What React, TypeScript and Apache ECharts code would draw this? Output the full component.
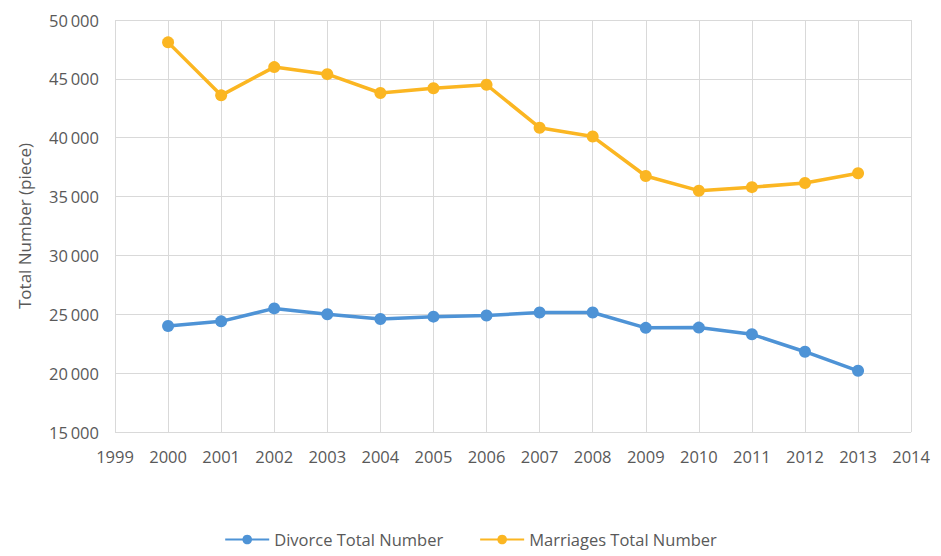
import React, { useEffect, useRef } from "react";
import * as echarts from "echarts";

const years = [2000, 2001, 2002, 2003, 2004, 2005, 2006, 2007, 2008, 2009, 2010, 2011, 2012, 2013];
const divorce = [24000, 24400, 25500, 25000, 24600, 24800, 24900, 25150, 25150, 23850, 23870, 23300, 21820, 20200];
const marriages = [48100, 43600, 46000, 45400, 43800, 44200, 44500, 40850, 40100, 36750, 35500, 35800, 36150, 36980];
const seriesNames = ["Divorce Total Number", "Marriages Total Number"];
const yAxisTitle = "Total Number (piece)";

const FONT = "'Open Sans', 'Liberation Sans', sans-serif";
const TEXT = "#595959";
const GRID = "#d9d9d9";

export default function App() {
  const ref = useRef<HTMLDivElement>(null);
  useEffect(() => {
    if (!ref.current) return;
    const chart = echarts.init(ref.current, undefined, { renderer: "svg" });
    chart.setOption({
      animation: false,
      grid: { left: 100, right: 16, top: 12, bottom: 124, containLabel: false },
      xAxis: {
        type: "value",
        min: 1999,
        max: 2014,
        interval: 1,
        axisLine: { show: false },
        axisTick: { show: false },
        splitLine: { show: true, lineStyle: { color: GRID, width: 1 } },
        axisLabel: {
          color: TEXT,
          fontFamily: FONT,
          fontSize: 16.5,
          margin: 16,
          formatter: (v: number) => String(v),
        },
      },
      yAxis: {
        type: "value",
        min: 15000,
        max: 50000,
        interval: 5000,
        name: yAxisTitle,
        nameLocation: "middle",
        nameGap: 82,
        nameTextStyle: { color: TEXT, fontFamily: FONT, fontSize: 17 },
        axisLine: { show: false },
        axisTick: { show: false },
        splitLine: { show: true, lineStyle: { color: GRID, width: 1 } },
        axisLabel: {
          color: TEXT,
          fontFamily: FONT,
          fontSize: 16.5,
          margin: 16,
          formatter: (v: number) => {
            const s = String(v);
            return s.length > 3 ? s.slice(0, s.length - 3) + "\u2009" + s.slice(-3) : s;
          },
        },
      },
      legend: {
        bottom: 3,
        left: "center",
        itemWidth: 44,
        itemHeight: 12,
        itemGap: 36,
        textStyle: { color: TEXT, fontFamily: FONT, fontSize: 16.5 },
        data: seriesNames,
      },
      series: [
        {
          name: seriesNames[0],
          type: "line",
          data: years.map((y, i) => [y, divorce[i]]),
          symbol: "circle",
          symbolSize: 12,
          lineStyle: { width: 3.5, color: "#4E93D6" },
          itemStyle: { color: "#4E93D6" },
        },
        {
          name: seriesNames[1],
          type: "line",
          data: years.map((y, i) => [y, marriages[i]]),
          symbol: "circle",
          symbolSize: 12,
          lineStyle: { width: 3.5, color: "#FBB622" },
          itemStyle: { color: "#FBB622" },
        },
      ],
    });
    return () => chart.dispose();
  }, []);
  return <div ref={ref} style={{ width: 925, height: 548 }} />;
}
